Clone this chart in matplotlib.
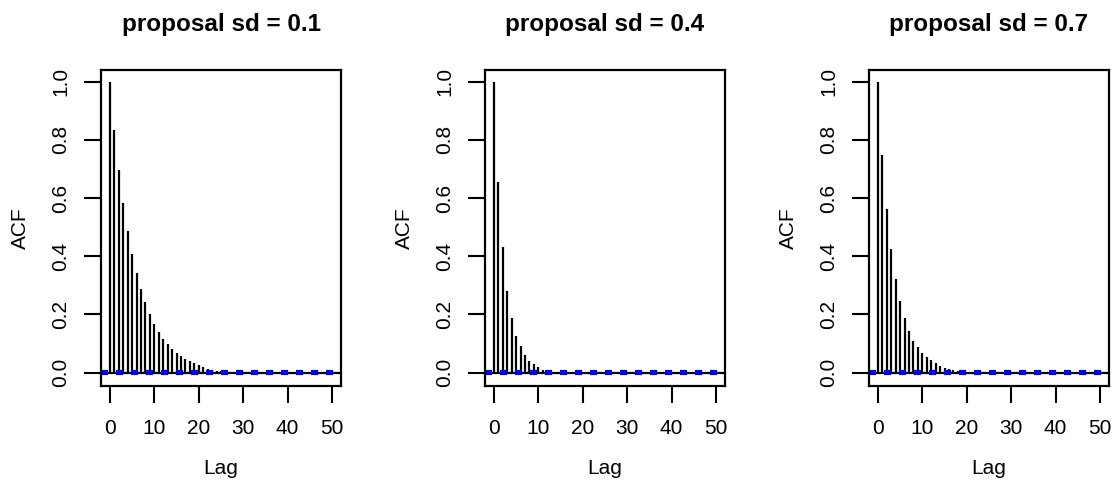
import numpy as np
import matplotlib
matplotlib.use("Agg")
import matplotlib.pyplot as plt

plt.rcParams['font.family'] = ['Liberation Sans', 'DejaVu Sans']

# ACF values for lags 0..50
lags = list(range(51))

acf_sd01 = [1.0, 0.834, 0.696, 0.582, 0.487, 0.408, 0.341, 0.286, 0.241, 0.202,
            0.168, 0.141, 0.116, 0.097, 0.080, 0.069, 0.057, 0.047, 0.039, 0.032,
            0.025, 0.018, 0.013, 0.009, 0.006, 0.004, 0.002, 0.001, 0.000, -0.001,
            -0.002, -0.002, -0.001, -0.001, 0.000, 0.001, 0.001, 0.000, -0.001, -0.001,
            0.000, 0.001, 0.002, 0.001, 0.000, -0.001, 0.000, 0.001, 0.001, 0.000, 0.000]

acf_sd04 = [1.0, 0.656, 0.432, 0.282, 0.187, 0.127, 0.091, 0.062, 0.041, 0.029,
            0.018, 0.010, 0.005, 0.003, 0.001, 0.000, -0.001, 0.000, 0.001, 0.001,
            0.000, -0.001, 0.002, 0.001, 0.000, -0.001, -0.001, 0.000, 0.001, -0.002,
            -0.003, 0.000, 0.001, 0.000, -0.001, 0.000, 0.001, 0.002, 0.001, 0.000,
            -0.001, 0.000, 0.001, 0.000, -0.001, 0.000, 0.001, 0.000, 0.000, 0.001, 0.000]

acf_sd07 = [1.0, 0.748, 0.562, 0.425, 0.322, 0.246, 0.187, 0.144, 0.110, 0.087,
            0.069, 0.055, 0.042, 0.032, 0.024, 0.017, 0.013, 0.009, 0.006, 0.004,
            0.002, 0.001, 0.000, -0.001, -0.001, 0.000, 0.001, 0.000, -0.001, -0.002,
            -0.001, 0.000, 0.001, 0.001, 0.000, -0.001, -0.001, 0.000, 0.001, 0.000,
            -0.001, -0.002, -0.001, 0.000, 0.001, 0.000, 0.000, 0.001, 0.000, -0.001, 0.000]

titles = ["proposal sd = 0.1", "proposal sd = 0.4", "proposal sd = 0.7"]
series = [acf_sd01, acf_sd04, acf_sd07]
ci = 0.002

W, H = 1112, 480
fig = plt.figure(figsize=(W / 100, H / 100), dpi=100)

panel_left = [101, 485, 869]
box_top, box_bottom, box_w = 70, 386, 240

for left, title, vals in zip(panel_left, titles, series):
    ax = fig.add_axes([left / W, (H - box_bottom) / H, box_w / W, (box_bottom - box_top) / H])
    ax.vlines(lags, 0, vals, color='black', lw=1.6)
    ax.axhline(0, color='black', lw=1.6)
    for h in (-ci, ci):
        ax.axhline(h, color='#0000ee', lw=3, ls=(0, (1.7, 1.9)))
    ax.set_xlim(-2, 52)
    ax.set_ylim(-0.046, 1.04)
    ax.set_xticks([0, 10, 20, 30, 40, 50])
    ax.set_yticks([0.0, 0.2, 0.4, 0.6, 0.8, 1.0])
    ax.set_yticklabels(["0.0", "0.2", "0.4", "0.6", "0.8", "1.0"], rotation=90, va='center')
    ax.tick_params(axis='both', labelsize=15, length=12, width=1.5)
    ax.tick_params(axis='x', pad=12)
    ax.tick_params(axis='y', pad=10)
    for sp in ax.spines.values():
        sp.set_linewidth(1.6)

    cx = (left + box_w / 2) / W
    fig.text(cx, 1 - 25 / H, title, ha='center', va='center', fontsize=17.5, fontweight='bold')
    fig.text(cx, 1 - 469 / H, "Lag", ha='center', va='center', fontsize=15)
    fig.text((left - 81) / W, 1 - 228 / H, "ACF", ha='center', va='center', fontsize=15, rotation=90)

fig.savefig("out.png", dpi=100)
